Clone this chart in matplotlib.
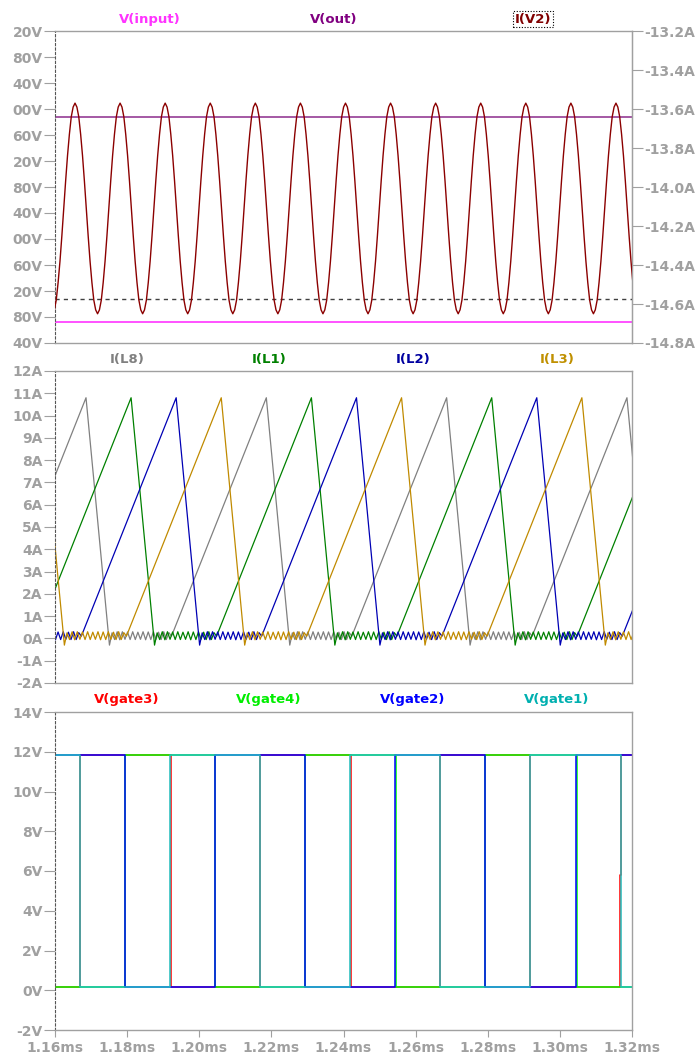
import matplotlib.pyplot as plt
import numpy as np

plt.rcParams['font.family'] = 'DejaVu Sans'
plt.rcParams['font.weight'] = 'bold'

W, H = 699, 1064
GRID = '#a0a0a0'

# ---------------- pane 1 : V(input), V(out), I(V2)
v_input = 672.3          # V
v_out = 987.7            # V
i_dash = -14.575         # A, dashed trace on the current axis
v_ticks = [640, 680, 720, 760, 800, 840, 880, 920, 960, 1000, 1040, 1080, 1120]
v_ticklabels = ['40V', '80V', '20V', '60V', '00V', '40V', '80V', '20V', '60V',
                '00V', '40V', '80V', '20V']
i_ticks = [-14.8, -14.6, -14.4, -14.2, -14.0, -13.8, -13.6, -13.4, -13.2]
i_ticklabels = ['-14.8A', '-14.6A', '-14.4A', '-14.2A', '-14.0A', '-13.8A',
                '-13.6A', '-13.4A', '-13.2A']

# I(V2) samples, 24 per ripple cycle (12.5us), first sample at iv2_t0 (ms)
iv2_t0 = 1.15305
iv2_dt = 0.0125 / 24
iv2 = [
    -13.57, -13.59, -13.64, -13.73, -13.84, -13.97, -14.11, -14.25, -14.38, -14.49, -14.58, -14.63,
    -14.65, -14.63, -14.58, -14.49, -14.38, -14.25, -14.11, -13.97, -13.84, -13.73, -13.64, -13.59,
    -13.57, -13.59, -13.64, -13.73, -13.84, -13.97, -14.11, -14.25, -14.38, -14.49, -14.58, -14.63,
    -14.65, -14.63, -14.58, -14.49, -14.38, -14.25, -14.11, -13.97, -13.84, -13.73, -13.64, -13.59,
    -13.57, -13.59, -13.64, -13.73, -13.84, -13.97, -14.11, -14.25, -14.38, -14.49, -14.58, -14.63,
    -14.65, -14.63, -14.58, -14.49, -14.38, -14.25, -14.11, -13.97, -13.84, -13.73, -13.64, -13.59,
    -13.57, -13.59, -13.64, -13.73, -13.84, -13.97, -14.11, -14.25, -14.38, -14.49, -14.58, -14.63,
    -14.65, -14.63, -14.58, -14.49, -14.38, -14.25, -14.11, -13.97, -13.84, -13.73, -13.64, -13.59,
    -13.57, -13.59, -13.64, -13.73, -13.84, -13.97, -14.11, -14.25, -14.38, -14.49, -14.58, -14.63,
    -14.65, -14.63, -14.58, -14.49, -14.38, -14.25, -14.11, -13.97, -13.84, -13.73, -13.64, -13.59,
    -13.57, -13.59, -13.64, -13.73, -13.84, -13.97, -14.11, -14.25, -14.38, -14.49, -14.58, -14.63,
    -14.65, -14.63, -14.58, -14.49, -14.38, -14.25, -14.11, -13.97, -13.84, -13.73, -13.64, -13.59,
    -13.57, -13.59, -13.64, -13.73, -13.84, -13.97, -14.11, -14.25, -14.38, -14.49, -14.58, -14.63,
    -14.65, -14.63, -14.58, -14.49, -14.38, -14.25, -14.11, -13.97, -13.84, -13.73, -13.64, -13.59,
    -13.57, -13.59, -13.64, -13.73, -13.84, -13.97, -14.11, -14.25, -14.38, -14.49, -14.58, -14.63,
    -14.65, -14.63, -14.58, -14.49, -14.38, -14.25, -14.11, -13.97, -13.84, -13.73, -13.64, -13.59,
    -13.57, -13.59, -13.64, -13.73, -13.84, -13.97, -14.11, -14.25, -14.38, -14.49, -14.58, -14.63,
    -14.65, -14.63, -14.58, -14.49, -14.38, -14.25, -14.11, -13.97, -13.84, -13.73, -13.64, -13.59,
    -13.57, -13.59, -13.64, -13.73, -13.84, -13.97, -14.11, -14.25, -14.38, -14.49, -14.58, -14.63,
    -14.65, -14.63, -14.58, -14.49, -14.38, -14.25, -14.11, -13.97, -13.84, -13.73, -13.64, -13.59,
    -13.57, -13.59, -13.64, -13.73, -13.84, -13.97, -14.11, -14.25, -14.38, -14.49, -14.58, -14.63,
    -14.65, -14.63, -14.58, -14.49, -14.38, -14.25, -14.11, -13.97, -13.84, -13.73, -13.64, -13.59,
    -13.57, -13.59, -13.64, -13.73, -13.84, -13.97, -14.11, -14.25, -14.38, -14.49, -14.58, -14.63,
    -14.65, -14.63, -14.58, -14.49, -14.38, -14.25, -14.11, -13.97, -13.84, -13.73, -13.64, -13.59,
    -13.57, -13.59, -13.64, -13.73, -13.84, -13.97, -14.11, -14.25, -14.38, -14.49, -14.58, -14.63,
    -14.65, -14.63, -14.58, -14.49, -14.38, -14.25, -14.11, -13.97, -13.84, -13.73, -13.64, -13.59,
    -13.57, -13.59, -13.64, -13.73, -13.84, -13.97, -14.11, -14.25, -14.38, -14.49, -14.58, -14.63,
    -14.65, -14.63, -14.58, -14.49, -14.38, -14.25, -14.11, -13.97, -13.84, -13.73, -13.64, -13.59,
]

# ---------------- pane 2 : inductor currents
l_names = ['I(L8)', 'I(L1)', 'I(L2)', 'I(L3)']
l_colors = ['#808080', '#008000', '#0000b4', '#c08a00']
l_label_colors = ['#808080', '#008000', '#0000a0', '#c09000']
l_peaks = [
    [1.11860, 1.16860, 1.21860, 1.26860, 1.31860, 1.36860],
    [1.13110, 1.18110, 1.23110, 1.28110, 1.33110],
    [1.14360, 1.19360, 1.24360, 1.29360, 1.34360],
    [1.15610, 1.20610, 1.25610, 1.30610, 1.35610],
]
l_peak = 10.8
l_start = 0.1
l_valley = -0.3
t_rise = 0.0263
t_fall = 0.0065
period = 0.05
ring = [0.25, -0.05, 0.30, -0.06, 0.30, -0.04, 0.29, -0.05, 0.30, -0.05, 0.28,
        -0.04, 0.30, -0.06, 0.29, -0.05, 0.30, -0.04, 0.28, -0.05, 0.30, -0.05, 0.26]
a_ticks = list(range(-2, 13))
a_ticklabels = ['-2A', '-1A', '0A', '1A', '2A', '3A', '4A', '5A', '6A', '7A', '8A',
                '9A', '10A', '11A', '12A']

# ---------------- pane 3 : gate drives (steps-post)
g_names = ['V(gate3)', 'V(gate4)', 'V(gate2)', 'V(gate1)']
g_colors = ['#ff0000', '#00ff00', '#0000ff', '#20bcbc']
g_label_colors = ['#ff0000', '#00ee00', '#0000ff', '#00b0b0']
g_t = [
    [1.16, 1.16685, 1.19215, 1.21685, 1.24215, 1.26685, 1.29185, 1.31665, 1.31695, 1.32],
    [1.16, 1.17935, 1.20435, 1.22935, 1.25465, 1.27935, 1.30465, 1.32],
    [1.16, 1.17935, 1.20435, 1.22935, 1.25435, 1.27935, 1.30435, 1.32],
    [1.16, 1.16685, 1.19185, 1.21685, 1.24185, 1.26685, 1.29185, 1.31700, 1.32],
]
g_v = [
    [0.15, 11.85, 0.15, 11.85, 0.15, 11.85, 0.15, 5.8, 11.85, 11.85],
    [0.15, 11.85, 0.15, 11.85, 0.15, 11.85, 0.15, 0.15],
    [11.85, 0.15, 11.85, 0.15, 11.85, 0.15, 11.85, 11.85],
    [11.85, 0.15, 11.85, 0.15, 11.85, 0.15, 11.85, 0.15, 0.15],
]
g_ticks = [-2, 0, 2, 4, 6, 8, 10, 12, 14]
g_ticklabels = ['-2V', '0V', '2V', '4V', '6V', '8V', '10V', '12V', '14V']
x_ticks = [1.16, 1.18, 1.20, 1.22, 1.24, 1.26, 1.28, 1.30, 1.32]
x_ticklabels = ['1.16ms', '1.18ms', '1.20ms', '1.22ms', '1.24ms', '1.26ms',
                '1.28ms', '1.30ms', '1.32ms']


def pane(top, bottom):
    return fig.add_axes([55 / W, 1 - bottom / H, 577 / W, (bottom - top) / H])


def style(ax):
    for s in ['top', 'right', 'bottom']:
        ax.spines[s].set_color(GRID)
        ax.spines[s].set_linewidth(1)
    ax.spines['left'].set_color('#555555')
    ax.spines['left'].set_linestyle((0, (2, 2)))
    ax.spines['left'].set_linewidth(0.8)
    ax.tick_params(axis='y', direction='out', length=8, width=0.8, color=GRID,
                   pad=1, labelsize=10, labelcolor=GRID)
    ax.set_xlim(1.16, 1.32)


def label(x, y, txt, color, **kw):
    fig.text(x / W, 1 - y / H, txt, color=color, fontsize=9.5, ha='center',
             va='center', **kw)


fig = plt.figure(figsize=(W / 100, H / 100), dpi=100)

# pane 1
ax1 = pane(31, 343)
style(ax1)
ax1.axhline(v_input, color='#ff44ff', lw=1.3)
ax1.axhline(v_out, color='#953c95', lw=1.2)
ax1.set_ylim(640, 1120)
ax1.set_yticks(v_ticks)
ax1.set_yticklabels(v_ticklabels)
ax1.tick_params(axis='x', bottom=False, labelbottom=False)

ax1r = ax1.twinx()
for s in ['left', 'top', 'bottom']:
    ax1r.spines[s].set_visible(False)
ax1r.spines['right'].set_color(GRID)
t_iv2 = iv2_t0 + iv2_dt * np.arange(len(iv2))
ax1r.axhline(i_dash, color='#404040', lw=1.0, ls=(0, (3, 3)))
ax1r.plot(t_iv2, iv2, color='#8b0000', lw=1.0)
ax1r.set_ylim(-14.8, -13.2)
ax1r.set_yticks(i_ticks)
ax1r.set_yticklabels(i_ticklabels)
ax1r.tick_params(axis='y', direction='out', length=8, width=0.8, color=GRID,
                 pad=1, labelsize=10, labelcolor=GRID)
ax1r.set_xlim(1.16, 1.32)

label(150, 19, 'V(input)', '#ff33ff')
label(334, 19, 'V(out)', '#800080')
label(533, 19, 'I(V2)', '#800000',
      bbox=dict(boxstyle='square,pad=0.15', fc='none', ec='black',
                ls=(0, (1, 1.5)), lw=0.8))

# pane 2
ax2 = pane(371, 683)
style(ax2)
for name, col, peaks in zip(l_names, l_colors, l_peaks):
    ts, vs = [], []
    dead = period - t_rise - t_fall
    for p in peaks:
        ts += [p - t_rise, p, p + t_fall]
        vs += [l_start, l_peak, l_valley]
        for k, r in enumerate(ring):
            ts.append(p + t_fall + dead * (k + 1) / (len(ring) + 1))
            vs.append(r)
    ax2.plot(ts, vs, color=col, lw=0.9)
ax2.set_ylim(-2, 12)
ax2.set_yticks(a_ticks)
ax2.set_yticklabels(a_ticklabels)
ax2.tick_params(axis='x', bottom=False, labelbottom=False)
ax2.set_xlim(1.16, 1.32)
for x, name, col in zip([127, 269, 413, 557], l_names, l_label_colors):
    label(x, 360, name, col)

# pane 3
ax3 = pane(712, 1030)
style(ax3)
for t, v, col in zip(g_t, g_v, g_colors):
    ax3.plot(t, v, color=col, lw=1.1, drawstyle='steps-post')
ax3.set_ylim(-2, 14)
ax3.set_yticks(g_ticks)
ax3.set_yticklabels(g_ticklabels)
ax3.set_xticks(x_ticks)
ax3.set_xticklabels(x_ticklabels)
ax3.tick_params(axis='x', direction='out', length=5, width=0.8, color=GRID,
                pad=3, labelsize=10, labelcolor=GRID)
ax3.set_xlim(1.16, 1.32)
for x, name, col in zip([127, 269, 413, 557], g_names, g_label_colors):
    label(x, 699, name, col)

fig.savefig('out.png', dpi=100)
